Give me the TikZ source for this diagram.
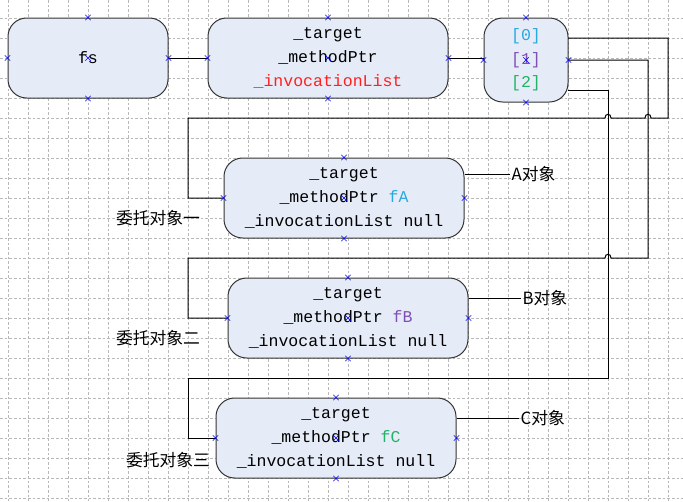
\documentclass[tikz,border=0pt]{standalone}
\usepackage{fontspec}
\setmainfont{Liberation Serif}
\setmonofont{Liberation Mono}
\newfontfamily\cjk{Noto Sans CJK SC}
\usetikzlibrary{shapes.misc}

\definecolor{boxfill}{HTML}{E6ECF7}
\definecolor{cRed}{HTML}{FF2020}
\definecolor{cA}{HTML}{2AA8E0}
\definecolor{cB}{HTML}{7F4FB5}
\definecolor{cC}{HTML}{22B366}

\begin{document}
\begin{tikzpicture}
	[
	x=0.75pt, y=-0.75pt,
	dg/.style={draw = black!80, fill = boxfill, shape = rectangle, rounded corners = 14pt, line width = 0.75pt, align = center, font = \ttfamily\fontsize{12.4}{18}\selectfont},
	xm/.style={draw = blue, shape = cross out, minimum size = 3.5pt, inner sep = 0pt, line width = 0.5pt},
	lb/.style={font = \cjk\fontsize{12.6}{15}\selectfont, inner sep = 1pt},
	ln/.style={draw = black, line width = 0.75pt},
	gridln/.style={draw = black!28, line width = 0.5pt, dash pattern = on 2pt off 1.5pt}
	]
	
	\useasboundingbox (0,0) rectangle (683,501);
	\fill[white] (0,0) rectangle (683,501);
	
	% Background grid
	\foreach \gx in {8,28,...,668}
		\draw[gridln] (\gx,0) -- (\gx,501);
	\foreach \gy in {18,38,...,498}
		\draw[gridln] (0,\gy) -- (683,\gy);
	
	% From left to right
	\node[dg, minimum width=120pt, minimum height=60pt](fs) at (88,58){fs};
	\node[dg, minimum width=180pt, minimum height=60pt](tgt) at (328,58){\_target\\\_methodPtr\\{\color{cRed}\_invocationList}};
	\node[dg, minimum width=63pt, minimum height=63pt, font=\ttfamily\fontsize{12.4}{17.6}\selectfont](arr) at (526,60){{\color{cA}[0]}\\{\color{cB}[1]}\\{\color{cC}[2]}};
	
	% From up to down
	\node[dg, minimum width=180pt, minimum height=60pt](oA) at (344,198){\_target\\\_methodPtr {\color{cA}fA}\\\_invocationList null};
	\node[dg, minimum width=180pt, minimum height=60pt](oB) at (348,318){\_target\\\_methodPtr {\color{cB}fB}\\\_invocationList null};
	\node[dg, minimum width=180pt, minimum height=60pt](oC) at (336,438){\_target\\\_methodPtr {\color{cC}fC}\\\_invocationList null};
	
	\node[lb](dA) at (158,218){委托对象一};
	\node[lb](dB) at (158,338){委托对象二};
	\node[lb](dC) at (168,460){委托对象三};
	
	\node[lb, anchor=west](lA) at (510,174){A对象};
	\node[lb, anchor=west](lB) at (521,298){B对象};
	\node[lb, anchor=west](lC) at (519,418){C对象};
	
	\coordinate (p0) at (568,38);
	\coordinate (p2) at (568,90);
	
	\draw[ln] (fs) -- (tgt);
	\draw[ln] (tgt.east) -- (tgt.east -| arr.west);
	
	\draw[ln] (p0) -- (668,38) -- (668,118) -- (651,118) .. controls (651,113) and (645,113) .. (645,118)
		-- (611,118) .. controls (611,113) and (605,113) .. (605,118) -- (188,118) |- (oA.west);
	\draw[ln] (arr.east) -- (648,60) -- (648,258) -- (611,258) .. controls (611,253) and (605,253) .. (605,258)
		-- (188,258) |- (oB.west);
	\draw[ln] (p2) -- (608,90) -- (608,378) -- (188,378) |- (oC.west);
	
	\draw[ln] (oA.east |- lA.west) -- (lA.west);
	\draw[ln] (oB.east |- lB.west) -- (lB.west);
	\draw[ln] (oC.east |- lC.west) -- (lC.west);
	
	% Connection points
	\foreach \b in {fs,tgt,arr,oA,oB,oC}
		\foreach \a in {north,south,east,west,center}
			\node[xm](\b-\a) at (\b.\a){};
\end{tikzpicture}
\end{document}
